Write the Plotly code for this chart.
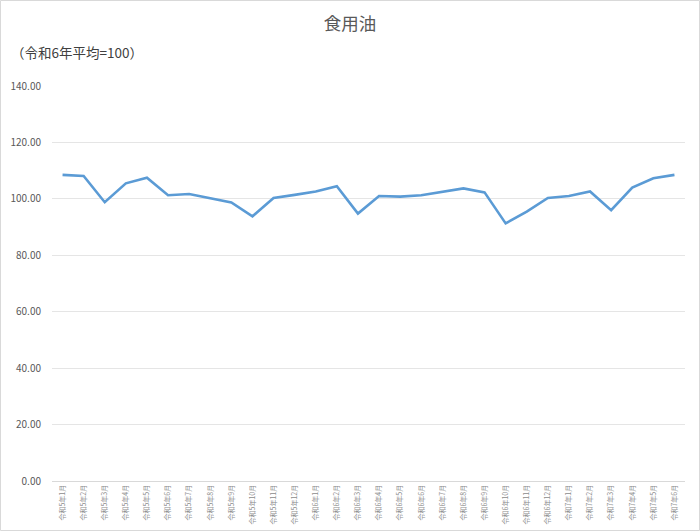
import plotly.graph_objects as go

months = ["令和5年1月","令和5年2月","令和5年3月","令和5年4月","令和5年5月","令和5年6月",
          "令和5年7月","令和5年8月","令和5年9月","令和5年10月","令和5年11月","令和5年12月",
          "令和6年1月","令和6年2月","令和6年3月","令和6年4月","令和6年5月","令和6年6月",
          "令和6年7月","令和6年8月","令和6年9月","令和6年10月","令和6年11月","令和6年12月",
          "令和7年1月","令和7年2月","令和7年3月","令和7年4月","令和7年5月","令和7年6月"]
values = [108.5, 108.1, 98.8, 105.5, 107.5, 101.3, 101.7, 100.3, 98.7, 93.8,
          100.3, 101.4, 102.6, 104.5, 94.8, 101.0, 100.8, 101.3, 102.6, 103.7,
          102.3, 91.3, 95.5, 100.3, 101.0, 102.6, 96.0, 104.0, 107.3, 108.5]
y_ticks = [0, 20, 40, 60, 80, 100, 120, 140]

font = "Noto Sans CJK JP, Noto Sans, sans-serif"

W, H = 700, 531
ML, MR, MT, MB = 52, 15, 86, 50
PW, PH = W - ML - MR, H - MT - MB

fig = go.Figure()
fig.add_trace(go.Scatter(x=months, y=values, mode="lines",
                         line=dict(color="#5B9BD5", width=2.6), showlegend=False))

fig.update_layout(
    width=W, height=H,
    paper_bgcolor="white", plot_bgcolor="white",
    margin=dict(l=ML, r=MR, t=MT, b=MB, autoexpand=False),
    font=dict(family=font, color="#595959"),
    title=dict(text="食用油", x=0.5, xanchor="center", y=1 - 24 / H, yanchor="middle",
               font=dict(size=17.5, color="#595959", family=font)),
    xaxis=dict(type="category", range=[-0.5, len(months) - 0.5], tickangle=-90,
               tickfont=dict(size=7, color="#8C8C8C"), showgrid=False,
               showline=True, linecolor="#D9D9D9", linewidth=1,
               ticks="", ticklen=0, automargin=False),
    yaxis=dict(range=[0, 140], tickvals=y_ticks, tickformat=".2f",
               tickfont=dict(size=10, color="#595959"),
               showgrid=True, gridcolor="#E5E5E5", gridwidth=1,
               zeroline=False, showline=False, ticks="", ticklabelstandoff=10,
               automargin=False),
    annotations=[dict(text="（令和6年平均=100）", xref="paper", yref="paper",
                      x=(9 - ML) / PW, y=(H - MB - 52) / PH, xanchor="left", yanchor="middle",
                      showarrow=False, font=dict(size=13.5, color="#404040", family=font))],
    shapes=[dict(type="rect", xref="paper", yref="paper",
                 x0=-(ML - 0.5) / PW, x1=1 + (MR - 0.5) / PW,
                 y0=-(MB - 0.5) / PH, y1=1 + (MT - 0.5) / PH,
                 line=dict(color="#D9D9D9", width=1))],
)

fig.write_html("out.html", config={"displayModeBar": False},
               post_script="document.body.style.margin='0';document.body.style.padding='0';")
